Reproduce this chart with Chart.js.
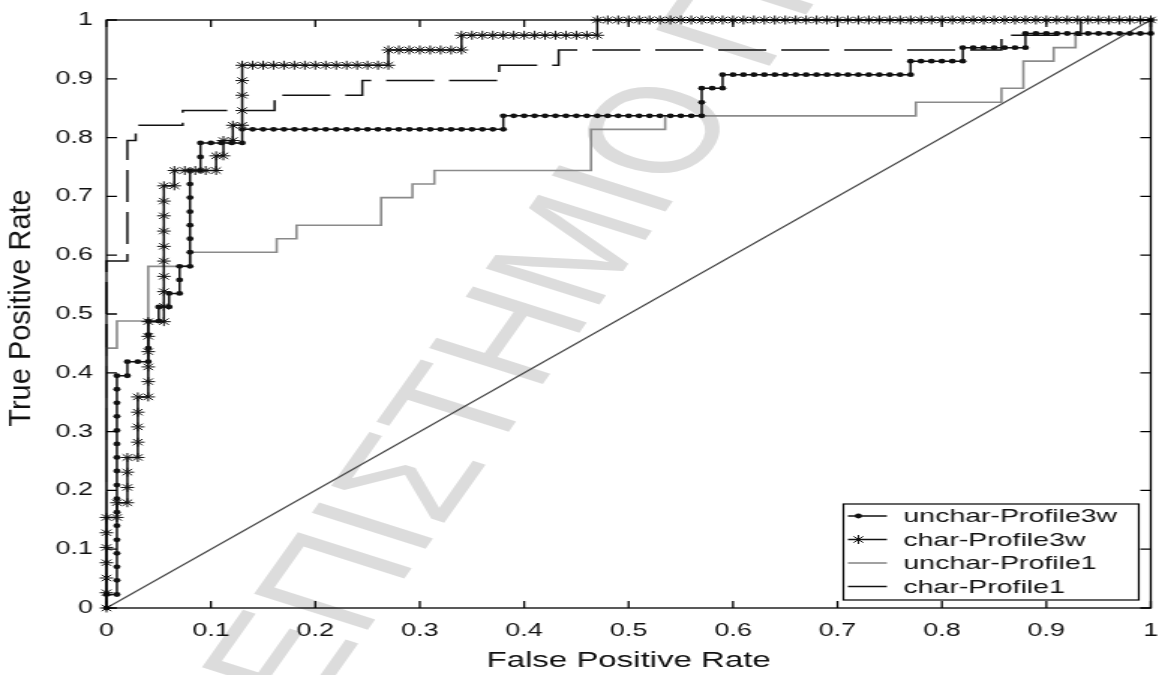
<!DOCTYPE html>
<html>
<head>
<meta charset="utf-8">
<script src="https://cdn.jsdelivr.net/npm/chart.js@4.4.0/dist/chart.umd.min.js"></script>
<style>
  html, body { margin: 0; padding: 0; background: #fff; }
  #roc { display: block; }
</style>
</head>
<body>
<!-- la figura original esta estirada en horizontal: lienzo de 773 px mostrado a 1159 px -->
<canvas id="roc" width="773" height="675" style="width:1159px;height:675px"></canvas>
<script>
// curvas ROC: [tasa falsos positivos, tasa verdaderos positivos]
const uncharProfile3w = [
  [0, 0], [0, 0.023], [0.01, 0.023], [0.01, 0.047], [0.01, 0.070], [0.01, 0.093], [0.01, 0.116],
  [0.01, 0.140], [0.01, 0.163], [0.01, 0.186], [0.01, 0.209], [0.01, 0.233], [0.01, 0.256],
  [0.01, 0.279], [0.01, 0.302], [0.01, 0.326], [0.01, 0.349], [0.01, 0.372], [0.01, 0.395],
  [0.02, 0.395], [0.02, 0.419], [0.03, 0.419], [0.04, 0.419], [0.04, 0.442], [0.04, 0.465],
  [0.04, 0.488], [0.05, 0.488], [0.05, 0.512], [0.06, 0.512], [0.06, 0.535], [0.07, 0.535],
  [0.07, 0.558], [0.07, 0.581], [0.08, 0.581], [0.08, 0.605], [0.08, 0.628], [0.08, 0.651],
  [0.08, 0.674], [0.08, 0.698], [0.08, 0.721], [0.08, 0.744], [0.09, 0.744], [0.09, 0.767],
  [0.09, 0.791], [0.10, 0.791], [0.11, 0.791], [0.12, 0.791], [0.13, 0.791], [0.13, 0.814],
  [0.14, 0.814], [0.15, 0.814], [0.16, 0.814], [0.17, 0.814], [0.18, 0.814], [0.19, 0.814],
  [0.20, 0.814], [0.21, 0.814], [0.22, 0.814], [0.23, 0.814], [0.24, 0.814], [0.25, 0.814],
  [0.26, 0.814], [0.27, 0.814], [0.28, 0.814], [0.29, 0.814], [0.30, 0.814], [0.31, 0.814],
  [0.32, 0.814], [0.33, 0.814], [0.34, 0.814], [0.35, 0.814], [0.36, 0.814], [0.37, 0.814],
  [0.38, 0.814], [0.38, 0.837], [0.39, 0.837], [0.40, 0.837], [0.41, 0.837], [0.42, 0.837],
  [0.43, 0.837], [0.44, 0.837], [0.45, 0.837], [0.46, 0.837], [0.47, 0.837], [0.48, 0.837],
  [0.49, 0.837], [0.50, 0.837], [0.51, 0.837], [0.52, 0.837], [0.53, 0.837], [0.54, 0.837],
  [0.55, 0.837], [0.56, 0.837], [0.57, 0.837], [0.57, 0.860], [0.57, 0.884], [0.58, 0.884],
  [0.59, 0.884], [0.59, 0.907], [0.60, 0.907], [0.61, 0.907], [0.62, 0.907], [0.63, 0.907],
  [0.64, 0.907], [0.65, 0.907], [0.66, 0.907], [0.67, 0.907], [0.68, 0.907], [0.69, 0.907],
  [0.70, 0.907], [0.71, 0.907], [0.72, 0.907], [0.73, 0.907], [0.74, 0.907], [0.75, 0.907],
  [0.76, 0.907], [0.77, 0.907], [0.77, 0.930], [0.78, 0.930], [0.79, 0.930], [0.80, 0.930],
  [0.81, 0.930], [0.82, 0.930], [0.82, 0.953], [0.83, 0.953], [0.84, 0.953], [0.85, 0.953],
  [0.86, 0.953], [0.87, 0.953], [0.88, 0.953], [0.88, 0.977], [0.89, 0.977], [0.90, 0.977],
  [0.91, 0.977], [0.92, 0.977], [0.93, 0.977], [0.94, 0.977], [0.95, 0.977], [0.96, 0.977],
  [0.97, 0.977], [0.98, 0.977], [0.99, 0.977], [1, 0.977], [1, 1],
];

const charProfile3w = [
  [0, 0], [0, 0.026], [0, 0.051], [0, 0.077], [0, 0.103], [0, 0.128], [0, 0.154],
  [0.01, 0.154], [0.01, 0.179], [0.02, 0.179], [0.02, 0.205], [0.02, 0.231], [0.02, 0.256],
  [0.03, 0.256], [0.03, 0.282], [0.03, 0.308], [0.03, 0.333], [0.03, 0.359], [0.04, 0.359],
  [0.04, 0.385], [0.04, 0.410], [0.04, 0.436], [0.04, 0.462], [0.04, 0.487], [0.055, 0.487],
  [0.055, 0.513], [0.055, 0.538], [0.055, 0.564], [0.055, 0.590], [0.055, 0.615], [0.055, 0.641],
  [0.055, 0.667], [0.055, 0.692], [0.055, 0.718], [0.065, 0.718], [0.065, 0.744], [0.075, 0.744],
  [0.085, 0.744], [0.095, 0.744], [0.105, 0.744], [0.105, 0.769], [0.112, 0.769], [0.112, 0.795],
  [0.121, 0.795], [0.121, 0.821], [0.13, 0.821], [0.13, 0.846], [0.13, 0.872], [0.13, 0.897],
  [0.13, 0.923], [0.14, 0.923], [0.15, 0.923], [0.16, 0.923], [0.17, 0.923], [0.18, 0.923],
  [0.19, 0.923], [0.20, 0.923], [0.21, 0.923], [0.22, 0.923], [0.23, 0.923], [0.24, 0.923],
  [0.25, 0.923], [0.26, 0.923], [0.27, 0.923], [0.27, 0.949], [0.28, 0.949], [0.29, 0.949],
  [0.30, 0.949], [0.31, 0.949], [0.32, 0.949], [0.33, 0.949], [0.34, 0.949], [0.34, 0.974],
  [0.35, 0.974], [0.36, 0.974], [0.37, 0.974], [0.38, 0.974], [0.39, 0.974], [0.40, 0.974],
  [0.41, 0.974], [0.42, 0.974], [0.43, 0.974], [0.44, 0.974], [0.45, 0.974], [0.46, 0.974],
  [0.47, 0.974], [0.47, 1], [0.48, 1], [0.49, 1], [0.50, 1], [0.51, 1], [0.52, 1], [0.53, 1],
  [0.54, 1], [0.55, 1], [0.56, 1], [0.57, 1], [0.58, 1], [0.59, 1], [0.60, 1], [0.61, 1],
  [0.62, 1], [0.63, 1], [0.64, 1], [0.65, 1], [0.66, 1], [0.67, 1], [0.68, 1], [0.69, 1],
  [0.70, 1], [0.71, 1], [0.72, 1], [0.73, 1], [0.74, 1], [0.75, 1], [0.76, 1], [0.77, 1],
  [0.78, 1], [0.79, 1], [0.80, 1], [0.81, 1], [0.82, 1], [0.83, 1], [0.84, 1], [0.85, 1],
  [0.86, 1], [0.87, 1], [0.88, 1], [0.89, 1], [0.90, 1], [0.91, 1], [0.92, 1], [0.93, 1],
  [0.94, 1], [0.95, 1], [0.96, 1], [0.97, 1], [0.98, 1], [0.99, 1], [1, 1],
];

const uncharProfile1 = [
  [0, 0], [0, 0.442], [0.01, 0.442], [0.01, 0.488], [0.04, 0.488], [0.04, 0.581], [0.08, 0.581],
  [0.08, 0.605], [0.163, 0.605], [0.163, 0.628], [0.182, 0.628], [0.182, 0.651], [0.263, 0.651],
  [0.263, 0.698], [0.293, 0.698], [0.293, 0.721], [0.314, 0.721], [0.314, 0.744], [0.464, 0.744],
  [0.464, 0.814], [0.535, 0.814], [0.535, 0.837], [0.775, 0.837], [0.775, 0.860], [0.857, 0.860],
  [0.857, 0.884], [0.878, 0.884], [0.878, 0.930], [0.907, 0.930], [0.907, 0.953], [0.928, 0.953],
  [0.928, 0.977], [1, 0.977], [1, 1],
];

const charProfile1 = [
  [0, 0], [0, 0.590], [0.02, 0.590], [0.02, 0.795], [0.028, 0.795], [0.028, 0.821], [0.073, 0.821],
  [0.073, 0.846], [0.161, 0.846], [0.161, 0.872], [0.245, 0.872], [0.245, 0.897], [0.376, 0.897],
  [0.376, 0.923], [0.433, 0.923], [0.433, 0.949], [0.857, 0.949], [0.857, 0.974], [0.933, 0.974],
  [0.933, 1], [1, 1],
];

const diagonal = [[0, 0], [1, 1]];

const NOMBRES = ["unchar-Profile3w", "char-Profile3w", "unchar-Profile1", "char-Profile1"];
const EJE_X = "False Positive Rate";
const EJE_Y = "True Positive Rate";
const MARCA_AGUA = "ΠΑΝΕΠΙΣΤΗΜΙΟ ΠΕΙΡΑΙΩΣ";

const ESTIRADO = 1159 / 773;
const FUENTE = '"Liberation Sans", Arial, Helvetica, sans-serif';

const aPuntos = (pares) => pares.map(([x, y]) => ({ x, y }));
const etiqueta = (v) => String(Number(v.toFixed(2)));

Chart.defaults.font.family = FUENTE;
Chart.defaults.color = "#111";

const series = [
  { label: NOMBRES[0], data: aPuntos(uncharProfile3w), borderColor: "#111", backgroundColor: "#111",
    borderWidth: 1.5, pointStyle: "circle", pointRadius: 2.4, pointBorderWidth: 0 },
  { label: NOMBRES[1], data: aPuntos(charProfile3w), borderColor: "#111", backgroundColor: "#111",
    borderWidth: 1.5, pointStyle: "star", pointRadius: 4.5, pointBorderWidth: 1 },
  { label: NOMBRES[2], data: aPuntos(uncharProfile1), borderColor: "#8a8a8a", backgroundColor: "#8a8a8a",
    borderWidth: 1.6, pointRadius: 0 },
  { label: NOMBRES[3], data: aPuntos(charProfile1), borderColor: "#111", backgroundColor: "#111",
    borderWidth: 1.5, borderDash: [32, 10], pointRadius: 0 },
  { label: "diagonal", data: aPuntos(diagonal), borderColor: "#444", backgroundColor: "#444",
    borderWidth: 1.1, pointRadius: 0 },
];

// marca de agua gris, debajo de todo lo demas
const marcaAgua = {
  id: "marcaAgua",
  beforeDraw(chart) {
    const { ctx } = chart;
    ctx.save();
    ctx.font = `122px ${FUENTE}`;
    ctx.fillStyle = "#dcdcdc";
    ctx.textBaseline = "middle";
    ctx.translate(440, 132);
    ctx.rotate(-64.6 * Math.PI / 180);
    const antes = ctx.measureText("ΠΑΝΕΠΙΣΤΗΜΙ").width + ctx.measureText("Ο").width / 2;
    ctx.fillText(MARCA_AGUA, -antes, 4);
    ctx.restore();
  },
};

// caja, marcas hacia dentro en los cuatro lados, titulo Y y leyenda dentro del area
const marcoMatlab = {
  id: "marcoMatlab",
  afterDraw(chart) {
    const { ctx, chartArea: a, scales } = chart;
    const x = scales.x, y = scales.y;
    const largo = 7;
    ctx.save();
    ctx.strokeStyle = "#000";
    ctx.lineWidth = 1.3;
    ctx.strokeRect(a.left, a.top, a.right - a.left, a.bottom - a.top);
    ctx.beginPath();
    x.ticks.forEach((t) => {
      const px = x.getPixelForValue(t.value);
      ctx.moveTo(px, a.bottom); ctx.lineTo(px, a.bottom - largo);
      ctx.moveTo(px, a.top); ctx.lineTo(px, a.top + largo);
    });
    y.ticks.forEach((t) => {
      const py = y.getPixelForValue(t.value);
      ctx.moveTo(a.left, py); ctx.lineTo(a.left + largo, py);
      ctx.moveTo(a.right, py); ctx.lineTo(a.right - largo, py);
    });
    ctx.stroke();

    // titulo del eje Y: en la figura no esta estirado
    ctx.save();
    ctx.translate(14.5, (a.top + a.bottom) / 2 - 6);
    ctx.scale(1 / ESTIRADO, 1);
    ctx.rotate(-Math.PI / 2);
    ctx.font = `29px ${FUENTE}`;
    ctx.fillStyle = "#111";
    ctx.textAlign = "center";
    ctx.textBaseline = "middle";
    ctx.fillText(EJE_Y, 0, 0);
    ctx.restore();

    // leyenda
    const caja = { right: a.right - 8, bottom: a.bottom - 8, w: 197, h: 96 };
    const left = caja.right - caja.w, top = caja.bottom - caja.h;
    ctx.fillStyle = "#fff";
    ctx.fillRect(left, top, caja.w, caja.h);
    ctx.strokeStyle = "#000";
    ctx.lineWidth = 1.2;
    ctx.strokeRect(left, top, caja.w, caja.h);
    ctx.font = `19px ${FUENTE}`;
    ctx.textBaseline = "middle";
    for (let i = 0; i < 4; i++) {
      const ds = chart.data.datasets[i];
      const fy = top + 12 + i * 23.5;
      ctx.strokeStyle = ds.borderColor;
      ctx.lineWidth = ds.borderWidth;
      ctx.beginPath();
      ctx.moveTo(left + 3, fy);
      ctx.lineTo(left + 29, fy);
      ctx.stroke();
      if (ds.pointRadius > 0) {
        ctx.fillStyle = ds.backgroundColor;
        ctx.strokeStyle = ds.borderColor;
        ctx.lineWidth = ds.pointBorderWidth || 1;
        Chart.helpers.drawPoint(ctx, { pointStyle: ds.pointStyle, radius: ds.pointRadius,
          rotation: 0, borderWidth: ds.pointBorderWidth }, left + 10, fy);
      }
      ctx.fillStyle = "#111";
      ctx.fillText(ds.label, left + 40, fy + 1);
    }
    ctx.restore();
  },
};

new Chart(document.getElementById("roc"), {
  type: "scatter",
  data: { datasets: series.map((s) => ({ ...s, showLine: true, tension: 0, clip: false,
    pointHoverRadius: 0, fill: false })) },
  options: {
    responsive: false,
    animation: false,
    events: [],
    layout: { padding: { top: 20, right: 3, left: 0, bottom: 0 } },
    plugins: { legend: { display: false }, tooltip: { enabled: false } },
    scales: {
      x: {
        type: "linear", min: 0, max: 1,
        ticks: { stepSize: 0.1, padding: 12, font: { size: 18 }, color: "#111", maxRotation: 0,
          callback: etiqueta },
        grid: { display: false, drawTicks: false },
        border: { display: false },
        title: { display: true, text: EJE_X, font: { size: 22 }, color: "#111", padding: { top: 0, bottom: 1 } },
        afterFit: (s) => { s.height = 67; s.paddingLeft = 0; s.paddingRight = 0; },
      },
      y: {
        type: "linear", min: 0, max: 1,
        ticks: { stepSize: 0.1, padding: 9, font: { size: 18 }, color: "#111", callback: etiqueta },
        grid: { display: false, drawTicks: false },
        border: { display: false },
        title: { display: false },
        afterFit: (s) => { s.width = 71; },
      },
    },
  },
  plugins: [marcaAgua, marcoMatlab],
});
</script>
</body>
</html>
